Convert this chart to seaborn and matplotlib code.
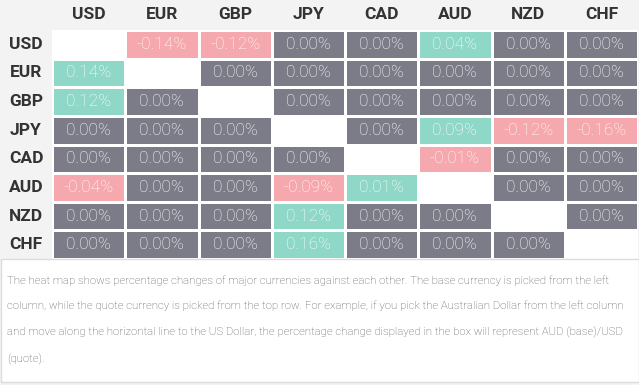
import numpy as np
import pandas as pd
import seaborn as sns
import matplotlib.pyplot as plt
from matplotlib.colors import ListedColormap
from matplotlib.patches import Rectangle

# data
currencies = ["USD", "EUR", "GBP", "JPY", "CAD", "AUD", "NZD", "CHF"]
usd = [np.nan, -0.14, -0.12, 0.00, 0.00, 0.04, 0.00, 0.00]
eur = [0.14, np.nan, 0.00, 0.00, 0.00, 0.00, 0.00, 0.00]
gbp = [0.12, 0.00, np.nan, 0.00, 0.00, 0.00, 0.00, 0.00]
jpy = [0.00, 0.00, 0.00, np.nan, 0.00, 0.09, -0.12, -0.16]
cad = [0.00, 0.00, 0.00, 0.00, np.nan, -0.01, 0.00, 0.00]
aud = [-0.04, 0.00, 0.00, -0.09, 0.01, np.nan, 0.00, 0.00]
nzd = [0.00, 0.00, 0.00, 0.12, 0.00, 0.00, np.nan, 0.00]
chf = [0.00, 0.00, 0.00, 0.16, 0.00, 0.00, 0.00, np.nan]

caption = ("The heat map shows percentage changes of major currencies against each other. The base currency is picked from the left\n"
           "column, while the quote currency is picked from the top row. For example, if you pick the Australian Dollar from the left column\n"
           "and move along the horizontal line to the US Dollar, the percentage change displayed in the box will represent AUD (base)/USD\n"
           "(quote).")

df = pd.DataFrame([usd, eur, gbp, jpy, cad, aud, nzd, chf], index=currencies, columns=currencies)
sign = np.sign(df)
labels = df.map(lambda v: "" if pd.isna(v) else "{:.2f}%".format(v))

plt.rcParams['font.family'] = ['Roboto', 'DejaVu Sans']
W, H = 639, 385
fig = plt.figure(figsize=(W / 100, H / 100), dpi=100)
fig.patch.set_facecolor("#f3f3f3")

# caption box
fig.patches.append(Rectangle((0.5 / W, 3 / H), (W - 1) / W, (H - 262) / H, transform=fig.transFigure,
                             facecolor="white", edgecolor="#dcdcdc", lw=1.0, zorder=0))

ax = fig.add_axes([52 / W, (H - 259) / H, 586 / W, 229 / H])
ax.set_facecolor("white")
cmap = ListedColormap(["#f5a8ad", "#7b7c87", "#8fd7c6"])
sns.heatmap(sign, mask=df.isna(), cmap=cmap, vmin=-1.5, vmax=1.5, cbar=False,
            annot=labels, fmt="", linewidths=0.9, linecolor="white", ax=ax,
            annot_kws={"color": "white", "fontsize": 12.5, "fontweight": "light"})

ax.xaxis.tick_top()
ax.set_xticklabels(currencies, fontsize=12.5, fontweight="bold", color="#333333")
ax.set_yticklabels(currencies, fontsize=12.5, fontweight="bold", color="#333333", rotation=0)
ax.tick_params(length=0)
ax.tick_params(axis="x", pad=5.5)
ax.tick_params(axis="y", pad=0)
for t in ax.get_yticklabels():
    t.set_horizontalalignment("center")
    t.set_x(-26 / 586)
ax.set_xlabel("")
ax.set_ylabel("")

fig.text(7 / W, 1 - 275 / H, caption, fontsize=8.2, color="#555555", va="top",
         linespacing=2.75, fontweight="light")

fig.savefig("out.png", dpi=100, facecolor=fig.get_facecolor())
